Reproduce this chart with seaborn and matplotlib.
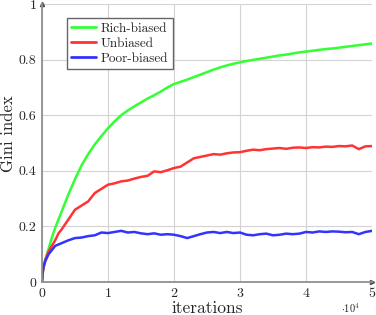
import pandas as pd
import matplotlib
matplotlib.use("Agg")
import matplotlib.pyplot as plt
import seaborn as sns

sns.set_style("whitegrid")
plt.rcParams["font.family"] = ["cmr10", "DejaVu Serif"]
plt.rcParams["mathtext.fontset"] = "cm"
plt.rcParams["axes.formatter.use_mathtext"] = True

# iterations in units of 1e4
iters = [0, 0.01, 0.03, 0.05, 0.1, 0.15, 0.2, 0.25, 0.3, 0.4, 0.5, 0.6, 0.7, 0.8, 0.9,
         1.0, 1.1, 1.2, 1.3, 1.4, 1.5, 1.6, 1.7, 1.8, 1.9,
         2.0, 2.1, 2.2, 2.3, 2.4, 2.5, 2.6, 2.7, 2.8, 2.9,
         3.0, 3.1, 3.2, 3.3, 3.4, 3.5, 3.6, 3.7, 3.8, 3.9,
         4.0, 4.1, 4.2, 4.3, 4.4, 4.5, 4.6, 4.7, 4.8, 4.9, 5.0]

rich = [0.0, 0.03, 0.06, 0.08, 0.12, 0.16, 0.195, 0.225, 0.255, 0.315, 0.37, 0.42, 0.46, 0.495, 0.525,
        0.553, 0.578, 0.60, 0.617, 0.632, 0.646, 0.66, 0.672, 0.685, 0.70,
        0.712, 0.72, 0.728, 0.737, 0.746, 0.755, 0.764, 0.772, 0.779, 0.785,
        0.79, 0.795, 0.799, 0.803, 0.807, 0.811, 0.815, 0.818, 0.822, 0.826,
        0.829, 0.832, 0.835, 0.838, 0.84, 0.843, 0.846, 0.849, 0.852, 0.855, 0.858]

unbiased = [0.0, 0.03, 0.06, 0.08, 0.11, 0.13, 0.15, 0.175, 0.19, 0.225, 0.26, 0.275, 0.29, 0.32, 0.335,
            0.35, 0.355, 0.362, 0.365, 0.372, 0.378, 0.382, 0.398, 0.395, 0.402,
            0.41, 0.415, 0.43, 0.445, 0.45, 0.455, 0.46, 0.458, 0.463, 0.466,
            0.467, 0.472, 0.476, 0.474, 0.478, 0.48, 0.482, 0.479, 0.483, 0.484,
            0.482, 0.485, 0.484, 0.487, 0.486, 0.489, 0.488, 0.491, 0.478, 0.488, 0.489]

poor = [0.0, 0.04, 0.06, 0.075, 0.1, 0.115, 0.13, 0.135, 0.14, 0.15, 0.158, 0.16, 0.165, 0.168, 0.178,
        0.176, 0.18, 0.184, 0.178, 0.18, 0.175, 0.172, 0.175, 0.17, 0.172,
        0.17, 0.165, 0.158, 0.165, 0.172, 0.178, 0.18, 0.176, 0.18, 0.176,
        0.178, 0.17, 0.168, 0.172, 0.174, 0.168, 0.17, 0.174, 0.172, 0.174,
        0.18, 0.178, 0.182, 0.18, 0.182, 0.181, 0.179, 0.18, 0.172, 0.18, 0.184]

labels = ["Rich-biased", "Unbiased", "Poor-biased"]
colors = ["#33ff33", "#ff3333", "#3333ff"]

df = pd.concat([
    pd.DataFrame({"iterations": iters, "gini": vals, "model": name})
    for name, vals in zip(labels, [rich, unbiased, poor])
])

fig = plt.figure(figsize=(3.76, 3.15), dpi=100)
ax = fig.add_axes([42 / 376, 33 / 315, 330 / 376, 278 / 315])

sns.lineplot(data=df, x="iterations", y="gini", hue="model", hue_order=labels,
             palette=colors, linewidth=1.8, ax=ax)

ax.set_xlim(0, 5)
ax.set_ylim(0, 1)
ax.set_xticks([0, 1, 2, 3, 4, 5])
ax.set_xticklabels(["0", "1", "2", "3", "4", "5"])
ax.set_yticks([0, 0.2, 0.4, 0.6, 0.8, 1])
ax.set_yticklabels(["0", "0.2", "0.4", "0.6", "0.8", "1"])
ax.tick_params(labelsize=10, length=2, width=0.6, color="#909090",
               direction="inout", pad=3)
ax.grid(color="#d3d3d3", linewidth=0.8)

for side in ["top", "right"]:
    ax.spines[side].set_visible(False)
for side in ["left", "bottom"]:
    ax.spines[side].set_color("#909090")
    ax.spines[side].set_linewidth(1.3)
ax.plot(1, 0, ">", color="#505050", ms=3, transform=ax.transAxes, clip_on=False)
ax.plot(0, 1, "^", color="#505050", ms=3, transform=ax.transAxes, clip_on=False)

ax.set_xlabel("iterations", fontsize=12.5, labelpad=1)
ax.set_ylabel("Gini index", fontsize=12)
ax.yaxis.set_label_coords(-0.078, 0.535)
ax.text(0.905, -0.112, r"$\cdot 10^4$", transform=ax.transAxes, fontsize=7.5)

leg = ax.legend(loc="upper left", bbox_to_anchor=(0.075, 0.95), fontsize=9.5,
                frameon=True, fancybox=False, framealpha=1, handlelength=1.9,
                borderpad=0.35, labelspacing=0.2, handletextpad=0.35,
                borderaxespad=0)
frame = leg.get_frame()
frame.set_visible(True)
frame.set_edgecolor("#666666")
frame.set_linewidth(1.0)
for line in leg.get_lines():
    line.set_linewidth(2)

fig.savefig("out.png", dpi=100)
